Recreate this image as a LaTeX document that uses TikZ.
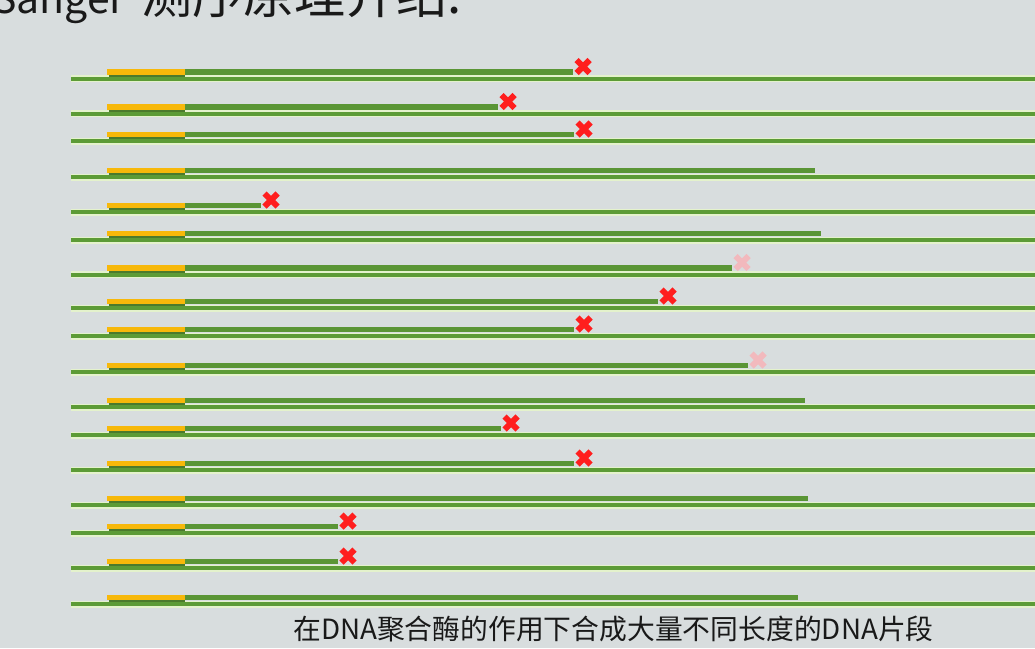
\documentclass[tikz,border=0pt]{standalone}
\usepackage{fontspec}
\newfontfamily\cjk{Noto Sans CJK SC}
\definecolor{bg}{HTML}{D8DDDE}
\definecolor{paleg}{HTML}{E4F2CC}
\definecolor{strandg}{HTML}{5C9B36}
\definecolor{extg}{HTML}{5A9535}
\definecolor{shadowg}{HTML}{4B7A2C}
\definecolor{primy}{HTML}{F7B80A}
\definecolor{xred}{HTML}{FF1E1E}
\definecolor{xfaint}{HTML}{F2B9BD}
\begin{document}
\begin{tikzpicture}[x=1pt,y=-1pt,
  tmplpale/.style={line width=7pt, draw=paleg},
  tmpl/.style={line width=4pt, draw=strandg},
  ext/.style={line width=5.5pt, draw=extg},
  primshadow/.style={line width=3pt, draw=shadowg},
  primer/.style={line width=5.5pt, draw=primy},
  xmk/.style={line width=6pt, draw=xred},
  xmkfaint/.style={line width=6pt, draw=xfaint},
  txt/.style={inner sep=0pt, text=black!90}
]
\fill[bg] (0,0) rectangle (1035,648);
\useasboundingbox (0,0) rectangle (1035,648);

\node[txt, anchor=base west, font=\cjk\fontsize{51}{51}\selectfont] (title) at (-8,13)
  {{\fontsize{41}{41}\selectfont Sanger}\hspace{16pt}测序原理介绍:};

\foreach \ty/\e/\m [count=\i] in {78.5/573/1, 113.5/498/1, 141/574/1, 177/815/0, 212/261/1, 240/821/0,
  274.5/732/2, 308/658/1, 336/574/1, 372/748/2, 407/805/0, 435/501/1, 470/574/1, 505/808/0,
  533/338/1, 568/338/1, 604/798/0}{
  \coordinate (ts\i) at (71,\ty);
  \coordinate (te\i) at (1035,\ty);
  \coordinate (ps\i) at (107,\ty-6.5);
  \coordinate (pe\i) at (185,\ty-6.5);
  \coordinate (ee\i) at (\e,\ty-6.5);
  \coordinate (ss\i) at (109,\ty-3.5);
  \coordinate (se\i) at (185,\ty-3.5);
  \draw[tmplpale] (ts\i) -- (te\i);
  \draw[tmpl] (ts\i) -- (te\i);
  \draw[primshadow] (ss\i) -- (se\i);
  \draw[ext] (ps\i) -- (ee\i);
  \draw[primer] (ps\i) -- (pe\i);
  \coordinate (x\i) at (\e+10,\ty-12);
  \ifnum\m=1
    \draw[xmk] ([shift={(-6.5,-6.5)}]x\i) -- ([shift={(6.5,6.5)}]x\i);
    \draw[xmk] ([shift={(-6.5,6.5)}]x\i) -- ([shift={(6.5,-6.5)}]x\i);
  \fi
  \ifnum\m=2
    \draw[xmkfaint] ([shift={(-6.5,-6.5)}]x\i) -- ([shift={(6.5,6.5)}]x\i);
    \draw[xmkfaint] ([shift={(-6.5,6.5)}]x\i) -- ([shift={(6.5,-6.5)}]x\i);
  \fi
}

\node[txt, anchor=base west, font=\cjk\fontsize{27.8}{27.8}\selectfont] (cap) at (293,639) {在DNA聚合酶的作用下合成大量不同长度的DNA片段};
\end{tikzpicture}
\end{document}
